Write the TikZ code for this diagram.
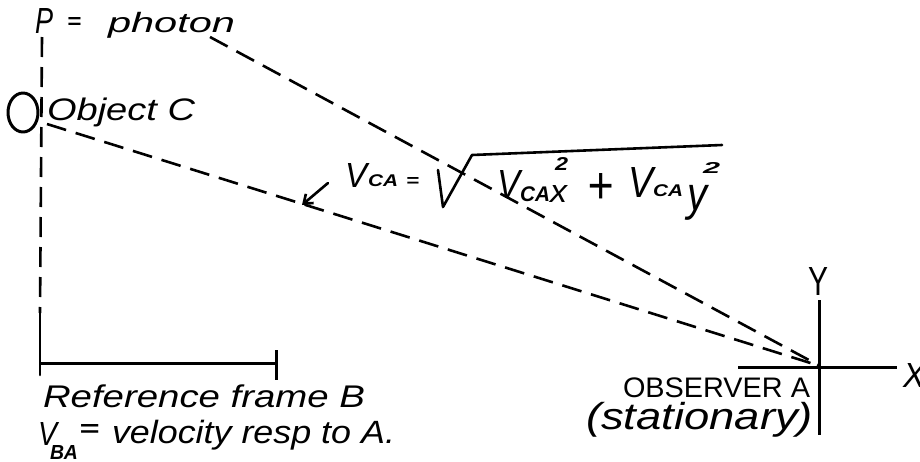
\documentclass[tikz,border=0pt]{standalone}
\usepackage{fontspec}
\usepackage{graphicx}
\setmainfont{Liberation Sans}
\usetikzlibrary{arrows.meta,shapes.geometric,calc}
\newcommand{\hw}[6]{\node[hwtext] (#1) at (#2,#3) {\resizebox*{#4pt}{#5pt}{#6}};}
\begin{document}
\begin{tikzpicture}[x=1pt,y=-1pt,
  hwtext/.style={inner sep=0pt, outer sep=0pt, anchor=north west, font=\itshape},
  ink/.style={line width=2.6pt, line cap=round, line join=round},
  dashline/.style={line width=2.6pt, dash pattern=on 20pt off 10pt},
  axisline/.style={line width=3pt}]
\useasboundingbox[fill=white] (0,0) rectangle (920,461);

% key points
\coordinate (A) at (820,366);
\coordinate (Ctop) at (42,37);
\coordinate (Cmid) at (40,313);
\coordinate (Cbot) at (40,375);
\coordinate (Fr) at (276,363);
\coordinate (Fl) at (40,363);
\coordinate (Cstart) at (47,124);
\coordinate (Pstart) at (210,37);

% texts
\hw{P}{35}{8}{18}{25}{P}
\hw{peq}{67}{17}{14}{11}{\bfseries =}
\hw{photon}{108}{12}{127}{26}{photon}
\node[draw, ellipse, ink, line width=3pt, minimum width=30pt, minimum height=39pt, inner sep=0pt] (obj) at (23,112.5) {};
\hw{objc}{47}{98}{148}{29}{Object C}

\hw{vca}{345}{163}{22}{24}{V}
\hw{vcasub}{368}{175}{30}{12}{\bfseries CA}
\hw{veq}{406}{177}{13}{9}{\bfseries =}
\hw{v1}{497}{170}{23}{28}{V}
\hw{v1s}{520}{187}{30}{15}{\bfseries CA}
\hw{v1x}{550}{185}{17}{17}{x}
\hw{v1e}{555}{157}{13}{13}{\bfseries 2}
\hw{plus}{587}{173}{26}{30}{+}
\hw{v2}{628}{167}{25}{30}{V}
\hw{v2s}{653}{185}{30}{12}{\bfseries CA}
\hw{v2y}{687}{185}{20}{35}{y}
\hw{v2e}{703}{162}{17}{11}{\bfseries 2}
\coordinate (s1) at (438,170);
\coordinate (s2) at (443,207);
\coordinate (s3) at (472,155);
\coordinate (s4) at (722,145);
\draw[ink] (s1) -- (s2) -- (s3) -- (s4);

\hw{refb}{43}{385}{322}{23}{Reference frame B}
\hw{vba}{38}{422}{19}{23}{V}
\hw{vbas}{50}{445}{28}{14}{\bfseries BA}
\hw{vbaeq}{79}{424}{20}{12}{\bfseries =}
\hw{vel}{112}{420}{283}{30}{velocity resp to A.}

\hw{obs}{623}{378}{187}{20}{\upshape OBSERVER A}
\hw{stat}{586}{402}{227}{35}{(stationary)}
\hw{Y}{808}{267}{20}{28}{\upshape Y}
\hw{X}{903}{363}{22}{24}{X}

% frame B
\draw[dashline] (Ctop) -- (Cmid);
\draw[ink] (Cmid) -- (Cbot);
\draw[axisline] (Fl) -- (Fr);
\draw[axisline] ($(Fr)+(0,-13)$) -- ($(Fr)+(0,17)$);

% sight lines
\draw[dashline] (Cstart) -- (A);
\draw[dashline] (Pstart) -- (A);

% arrow
\coordinate (arrT) at (328,183);
\coordinate (arrH) at (302,205);
\draw[ink, -{Straight Barb[length=8pt,width=12pt]}] (arrT) -- (arrH);

% axes
\draw[axisline] (819,300) -- (819,435);
\draw[axisline] (738,367) -- (897,367);
\end{tikzpicture}
\end{document}
